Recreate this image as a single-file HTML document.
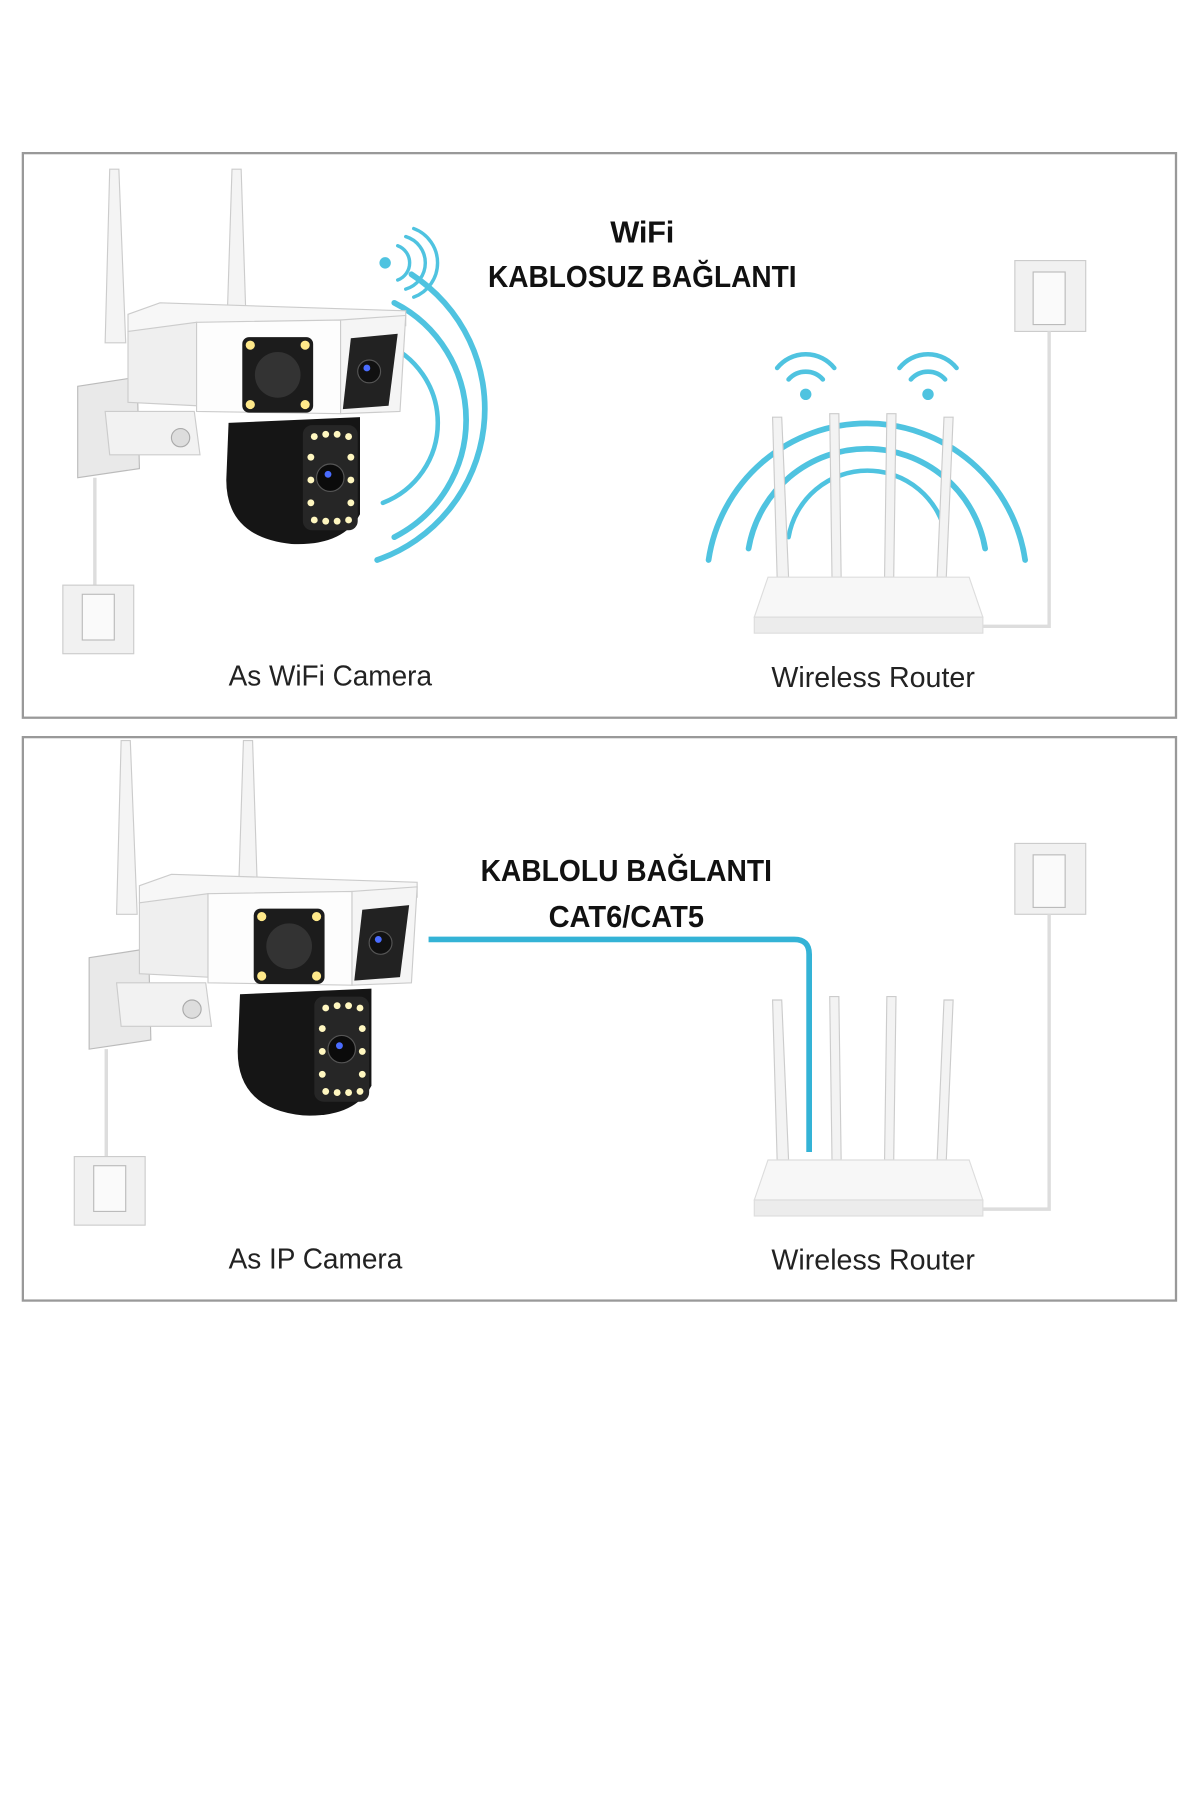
<!DOCTYPE html>
<html><head><meta charset="utf-8"><style>
html,body{margin:0;padding:0;background:#fff;}
svg{display:block}
.t{font-family:"Liberation Sans",sans-serif;}
</style></head><body>
<svg width="1200" height="1800" viewBox="0 0 1050 1575" xmlns="http://www.w3.org/2000/svg">
<defs>
<g id="cam">
  <!-- antennas -->
  <path d="M96 148 L104 148 L110 300 L92 300 Z" fill="#f4f4f4" stroke="#ccc"/>
  <path d="M203 148 L211 148 L215 272 L199 272 Z" fill="#f4f4f4" stroke="#ccc"/>
  <!-- wall plate -->
  <path d="M68 338 L120 330 L122 410 L68 418 Z" fill="#e9e9e9" stroke="#bbb"/>
  <path d="M92 360 L170 360 L175 398 L96 398 Z" fill="#f2f2f2" stroke="#ccc"/>
  <circle cx="158" cy="383" r="8" fill="#ddd" stroke="#aaa"/>
  <!-- wire + switch -->
  <line x1="83" y1="418" x2="83" y2="512" stroke="#ddd" stroke-width="3"/>
  <rect x="55" y="512" width="62" height="60" fill="#f1f1f1" stroke="#ccc"/>
  <rect x="72" y="520" width="28" height="40" fill="#fafafa" stroke="#bbb"/>
  <!-- body top -->
  <path d="M112 275 L140 265 L355 272 L355 285 L112 290 Z" fill="#f7f7f7" stroke="#ccc"/>
  <path d="M112 290 L172 282 L172 355 L112 352 Z" fill="#efefef" stroke="#ccc"/>
  <path d="M172 282 L298 280 L298 362 L172 360 Z" fill="#fdfdfd" stroke="#ccc"/>
  <path d="M298 280 L355 276 L350 360 L298 362 Z" fill="#f5f5f5" stroke="#ccc"/>
  <!-- front black square -->
  <rect x="212" y="295" width="62" height="66" rx="6" fill="#1c1c1c"/>
  <circle cx="243" cy="328" r="20" fill="#333"/>
  <circle cx="219" cy="302" r="4" fill="#ffe98a"/><circle cx="267" cy="302" r="4" fill="#ffe98a"/>
  <circle cx="219" cy="354" r="4" fill="#ffe98a"/><circle cx="267" cy="354" r="4" fill="#ffe98a"/>
  <!-- side lens panel -->
  <path d="M307 296 L348 292 L340 355 L300 358 Z" fill="#222"/>
  <circle cx="323" cy="325" r="10" fill="#111" stroke="#555"/>
  <circle cx="321" cy="322" r="3" fill="#4a6cff"/>
  <!-- dome -->
  <path d="M200 370 L315 365 L315 450 Q300 478 255 476 Q198 470 198 420 Z" fill="#151515"/>
  <rect x="265" y="372" width="48" height="92" rx="8" fill="#262626"/>
  <circle cx="289" cy="418" r="12" fill="#0b0b0b" stroke="#555"/>
  <circle cx="287" cy="415" r="3" fill="#4a6cff"/>
  <g fill="#fff7c0">
    <circle cx="275" cy="382" r="3"/><circle cx="285" cy="380" r="3"/><circle cx="295" cy="380" r="3"/><circle cx="305" cy="382" r="3"/>
    <circle cx="275" cy="455" r="3"/><circle cx="285" cy="456" r="3"/><circle cx="295" cy="456" r="3"/><circle cx="305" cy="455" r="3"/>
    <circle cx="272" cy="400" r="3"/><circle cx="272" cy="420" r="3"/><circle cx="272" cy="440" r="3"/>
    <circle cx="307" cy="400" r="3"/><circle cx="307" cy="420" r="3"/><circle cx="307" cy="440" r="3"/>
  </g>
</g>
<g id="router">
  <g fill="#f3f3f3" stroke="#ccc">
    <path d="M676 365 L684 365 L690 505 L680 505 Z"/>
    <path d="M726 362 L734 362 L736 505 L728 505 Z"/>
    <path d="M776 362 L784 362 L782 505 L774 505 Z"/>
    <path d="M826 365 L834 365 L828 505 L820 505 Z"/>
  </g>
  <path d="M672 505 L848 505 L860 540 L660 540 Z" fill="#f7f7f7" stroke="#ddd"/>
  <rect x="660" y="540" width="200" height="14" fill="#ececec" stroke="#ddd"/>
  <rect x="888" y="228" width="62" height="62" fill="#f1f1f1" stroke="#ccc"/>
  <rect x="904" y="238" width="28" height="46" fill="#fafafa" stroke="#bbb"/>
  <polyline points="918,290 918,548 860,548" fill="none" stroke="#ddd" stroke-width="3"/>
</g>
</defs>

<rect x="20" y="134" width="1009" height="494" fill="#fff" stroke="#999" stroke-width="2"/>
<rect x="20" y="645" width="1009" height="493" fill="#fff" stroke="#999" stroke-width="2"/>

<!-- panel 1 -->
<g fill="none" stroke="#4fc3e0" stroke-linecap="round">
  <path d="M335 300 A75 75 0 0 1 335 440" stroke-width="4"/>
  <path d="M345 265 A115 115 0 0 1 345 470" stroke-width="5"/>
  <path d="M360 240 A140 140 0 0 1 330 490" stroke-width="5"/>
  <path d="M348 215 A16 16 0 0 1 348 245" stroke-width="3"/>
  <path d="M355 207 A24 24 0 0 1 355 253" stroke-width="3"/>
  <path d="M362 200 A32 32 0 0 1 362 260" stroke-width="3"/>
  <path d="M690 470 A70 70 0 0 1 828 470" stroke-width="4"/>
  <path d="M655 480 A105 105 0 0 1 862 480" stroke-width="5"/>
  <path d="M620 490 A140 140 0 0 1 897 490" stroke-width="5"/>
  <path d="M690 332 A20 20 0 0 1 720 332" stroke-width="4"/>
  <path d="M680 322 A32 32 0 0 1 730 322" stroke-width="4"/>
  <path d="M797 332 A20 20 0 0 1 827 332" stroke-width="4"/>
  <path d="M787 322 A32 32 0 0 1 837 322" stroke-width="4"/>
</g>
<circle cx="337" cy="230" r="5" fill="#4fc3e0"/>
<circle cx="705" cy="345" r="5" fill="#4fc3e0"/>
<circle cx="812" cy="345" r="5" fill="#4fc3e0"/>
<use href="#cam"/>
<use href="#router"/>
<text class="t" x="562" y="212" text-anchor="middle" font-size="27" font-weight="bold" fill="#111" textLength="56">WiFi</text>
<text class="t" x="562" y="251" text-anchor="middle" font-size="27" font-weight="bold" fill="#111" textLength="270" lengthAdjust="spacingAndGlyphs">KABLOSUZ BAĞLANTI</text>
<text class="t" x="200" y="600" font-size="25" fill="#222" textLength="178" lengthAdjust="spacingAndGlyphs">As WiFi Camera</text>
<text class="t" x="675" y="601" font-size="25" fill="#222" textLength="178" lengthAdjust="spacingAndGlyphs">Wireless Router</text>

<!-- panel 2 -->
<g transform="translate(10,500)"><use href="#cam"/></g>
<g transform="translate(0,510)"><use href="#router"/></g>
<path d="M375 822 L695 822 Q708 822 708 835 L708 1008" fill="none" stroke="#34b3d6" stroke-width="5"/>
<text class="t" x="548" y="771" text-anchor="middle" font-size="27" font-weight="bold" fill="#111" textLength="255" lengthAdjust="spacingAndGlyphs">KABLOLU BAĞLANTI</text>
<text class="t" x="548" y="811" text-anchor="middle" font-size="27" font-weight="bold" fill="#111" textLength="136" lengthAdjust="spacingAndGlyphs">CAT6/CAT5</text>
<text class="t" x="200" y="1110" font-size="25" fill="#222" textLength="152" lengthAdjust="spacingAndGlyphs">As IP Camera</text>
<text class="t" x="675" y="1111" font-size="25" fill="#222" textLength="178" lengthAdjust="spacingAndGlyphs">Wireless Router</text>
</svg>
</body></html>
